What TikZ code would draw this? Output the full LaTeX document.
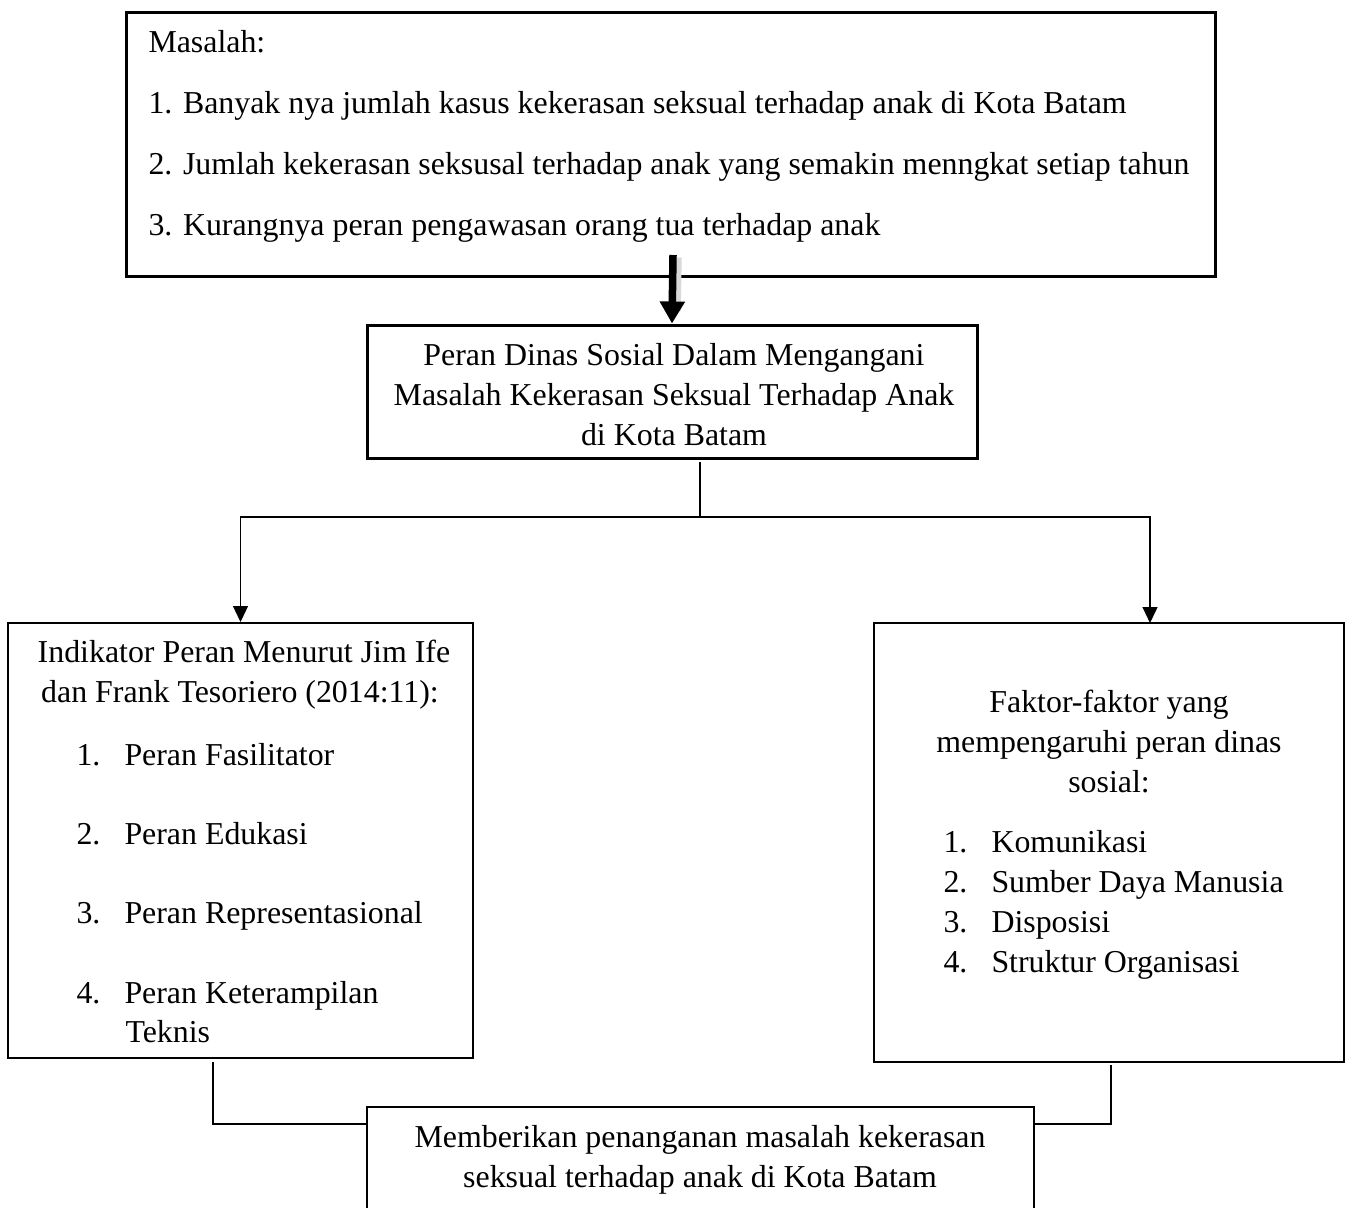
\documentclass[tikz,border=0pt]{standalone}
\usepackage{fontspec}
\setmainfont{Liberation Serif}
\usetikzlibrary{arrows.meta}

\tikzset{
  box/.style={draw, line width=0.8pt, inner sep=0pt},
  txt/.style={font=\fontsize{12.75}{16}\selectfont, inner sep=0pt},
  conn/.style={line width=0.5pt},
  tip/.style={-{Triangle[length=6.4pt, width=6pt]}}
}

\begin{document}
\begin{tikzpicture}[x=0.4pt, y=-0.4pt]
    \useasboundingbox (0, 0) rectangle (1350, 1207);

    % masalah box
    \node[box, line width=1.2pt, minimum width=1089*0.4pt, minimum height=264*0.4pt](masalah) at (670.5, 144){};
    \node[txt, anchor=base west](mhead) at (148, 52){Masalah:};
    \node[txt, anchor=base west](m1) at (148, 113){1. Banyak nya jumlah kasus kekerasan seksual terhadap anak di Kota Batam};
    \node[txt, anchor=base west](m2) at (148, 174){2. Jumlah kekerasan seksusal terhadap anak yang semakin menngkat setiap tahun};
    \node[txt, anchor=base west](m3) at (148, 235){3. Kurangnya peran pengawasan orang tua terhadap anak};

    % peran box
    \node[box, line width=1.2pt, minimum width=610*0.4pt, minimum height=133*0.4pt](peran) at (672, 391.5){};
    \node[txt, anchor=base, align=center](perantext) at (674, 445){Peran Dinas Sosial Dalam Mengangani\\
      Masalah Kekerasan Seksual Terhadap Anak\\ di Kota Batam};

    % big arrow, with its shadow
    \coordinate (arrtop) at (673, 255);
    \draw [gray!30, line width=3pt] ([xshift=2pt, yshift=-1pt]arrtop) -- ([xshift=2pt, yshift=5pt]peran.north);
    \draw [line width=3pt, -{Triangle[length=8.8pt, width=9.6pt]}] (arrtop) -- (peran.north);

    % indikator box
    \node[box, minimum width=465*0.4pt, minimum height=435*0.4pt](indikator) at (240.5, 840.5){};
    \node[txt, anchor=base, align=center](indhead) at (240, 702){\ Indikator Peran Menurut Jim Ife\\
      dan Frank Tesoriero (2014:11):};
    \node[txt, anchor=base west](i1n) at (76, 765){1.};
    \node[txt, anchor=base west](i1) at (124, 765){Peran Fasilitator};
    \node[txt, anchor=base west](i2n) at (76, 844){2.};
    \node[txt, anchor=base west](i2) at (124, 844){Peran Edukasi};
    \node[txt, anchor=base west](i3n) at (76, 923){3.};
    \node[txt, anchor=base west](i3) at (124, 923){Peran Representasional};
    \node[txt, anchor=base west](i4n) at (76, 1003){4.};
    \node[txt, anchor=base west](i4) at (124, 1003){Peran Keterampilan};
    \node[txt, anchor=base west](i4b) at (125, 1042){Teknis};

    % faktor box
    \node[box, minimum width=470*0.4pt, minimum height=439*0.4pt](faktor) at (1109, 842.5){};
    \node[txt, anchor=base, align=center](fakhead) at (1109, 792){Faktor-faktor yang\\
      mempengaruhi peran dinas\\ sosial:};
    \node[txt, anchor=base west](f1n) at (943, 852){1.};
    \node[txt, anchor=base west](f1) at (991, 852){Komunikasi};
    \node[txt, anchor=base west](f2n) at (943, 892){2.};
    \node[txt, anchor=base west](f2) at (991, 892){Sumber Daya Manusia};
    \node[txt, anchor=base west](f3n) at (943, 932){3.};
    \node[txt, anchor=base west](f3) at (991, 932){Disposisi};
    \node[txt, anchor=base west](f4n) at (943, 972){4.};
    \node[txt, anchor=base west](f4) at (991, 972){Struktur Organisasi};

    % hasil box, cut at the bottom
    \node[inner sep=0pt, minimum width=666*0.4pt, minimum height=106*0.4pt](hasil) at (700, 1160){};
    \draw [line width=0.8pt] (hasil.south west) |- (hasil.north east) -- (hasil.south east);
    \node[txt, anchor=base, align=center](hasiltext) at (700, 1187){Memberikan penanganan masalah kekerasan\\
      seksual terhadap anak di Kota Batam};

    % split to both boxes
    \coordinate (perfoot) at (700, 462);
    \coordinate (split) at (700, 517);
    \coordinate (ftop) at (1150, 623);
    \draw [conn] (perfoot) -- (split);
    \draw [conn, tip] (split) -| (indikator.north);
    \draw [conn, tip] (split) -| (ftop);

    % join into hasil
    \coordinate (indfoot) at (213, 1062);
    \coordinate (fakfoot) at (1111, 1065);
    \draw [conn] (indfoot) |- (hasil.west |- 0, 1124);
    \draw [conn] (fakfoot) |- (hasil.east |- 0, 1124);
\end{tikzpicture}
\end{document}
